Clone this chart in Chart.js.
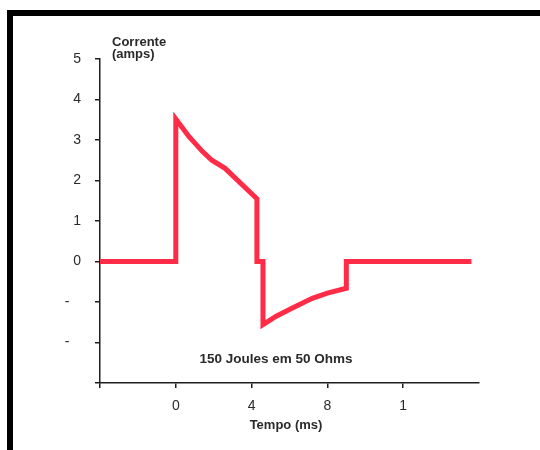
<!DOCTYPE html>
<html>
<head>
<meta charset="utf-8">
<script src="https://cdn.jsdelivr.net/npm/chart.js@4.4.0/dist/chart.umd.min.js"></script>
<style>
  html, body { margin: 0; padding: 0; background: #fff; overflow: hidden; }
  #frame { position: absolute; left: 7px; top: 10px; width: 600px; height: 500px; border: 6px solid #000; box-sizing: border-box; }
  #wrap { position: absolute; left: 0; top: 0; width: 540px; height: 450px; }
</style>
</head>
<body>
<div id="frame"></div>
<div id="wrap"><canvas id="pulseChart" width="540" height="450"></canvas></div>
<script>
// pulso bifasico, 150 J em 50 ohms
const timeMs  = [-4, 0, 0, 0.7, 1.4, 1.9, 2.6, 4.28, 4.28, 4.6, 4.6, 5.3, 6.1, 7.2, 8.0, 9.0, 9.0, 15.6];
const current = [0, 0, 3.52, 3.08, 2.72, 2.5, 2.3, 1.55, 0, 0, -1.56, -1.35, -1.16, -0.91, -0.78, -0.66, 0, 0];

const xTickValues = [-4, 0, 4, 8, 12];
const xTickLabels = ["", "0", "4", "8", "1"];
const yTickValues = [5, 4, 3, 2, 1, 0, -1, -2, -3];
const yTickLabels = ["5", "4", "3", "2", "1", "0", "-   ", "-   ", ""];

const yTitle = ["Corrente", "(amps)"];
const xTitle = "Tempo (ms)";
const note = "150 Joules em 50 Ohms";

const points = timeMs.map((t, i) => ({ x: t, y: current[i] }));

const axisColor = "#1e1e1e";
const textColor = "#2a2a2a";

const textPlugin = {
  id: "textPlugin",
  afterDraw(chart) {
    const ctx = chart.ctx;
    const area = chart.chartArea;
    ctx.save();
    ctx.fillStyle = textColor;
    ctx.font = "bold 13px 'Liberation Sans', Arial, sans-serif";
    ctx.textAlign = "left";
    ctx.textBaseline = "alphabetic";
    ctx.fillText(yTitle[0], area.left + 12, 46);
    ctx.fillText(yTitle[1], area.left + 12, 58);
    ctx.textAlign = "center";
    ctx.fillText(xTitle, 286, 429);
    ctx.font = "bold 13.5px 'Liberation Sans', Arial, sans-serif";
    ctx.fillText(note, 276, 363);
    ctx.restore();
  }
};

new Chart(document.getElementById("pulseChart").getContext("2d"), {
  type: "scatter",
  data: {
    datasets: [{
      data: points,
      showLine: true,
      borderColor: "#ff2b47",
      backgroundColor: "#ff2b47",
      borderWidth: 5,
      borderJoinStyle: "miter",
      pointRadius: 0,
      tension: 0,
    }],
  },
  options: {
    responsive: false,
    animation: false,
    layout: { padding: { left: 0, right: 61, top: 59, bottom: 0 } },
    plugins: { legend: { display: false }, tooltip: { enabled: false } },
    scales: {
      x: {
        type: "linear",
        min: -4,
        max: 16,
        afterBuildTicks: (scale) => { scale.ticks = xTickValues.map((v) => ({ value: v })); },
        afterFit: (scale) => { scale.height = 67; },
        border: { color: axisColor, width: 1.5 },
        grid: { drawOnChartArea: false, drawTicks: true, tickLength: 5, color: axisColor, lineWidth: 1.5 },
        ticks: {
          padding: 10,
          color: textColor,
          font: { family: "'Liberation Sans', Arial, sans-serif", size: 14 },
          callback: (v) => xTickLabels[xTickValues.indexOf(v)],
        },
      },
      y: {
        type: "linear",
        min: -3,
        max: 5,
        afterBuildTicks: (scale) => { scale.ticks = yTickValues.map((v) => ({ value: v })); },
        afterFit: (scale) => { scale.width = 100; },
        border: { color: axisColor, width: 1.5 },
        grid: { drawOnChartArea: false, drawTicks: true, tickLength: 5, color: axisColor, lineWidth: 1.5 },
        ticks: {
          padding: 14,
          color: textColor,
          font: { family: "'Liberation Sans', Arial, sans-serif", size: 14 },
          callback: (v) => yTickLabels[yTickValues.indexOf(v)],
        },
      },
    },
  },
  plugins: [textPlugin],
});
</script>
</body>
</html>
